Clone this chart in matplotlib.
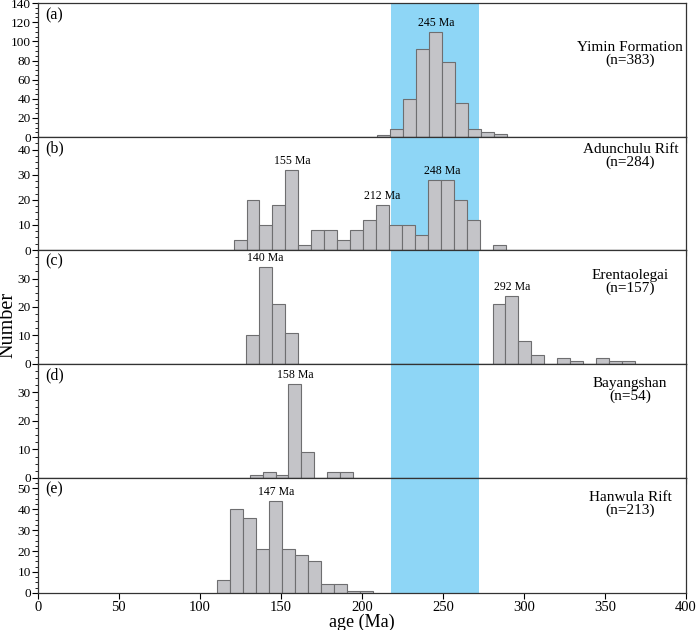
import numpy as np
import matplotlib
matplotlib.use("Agg")
from matplotlib import pyplot as plt
from matplotlib.ticker import AutoMinorLocator, FixedLocator

plt.rcParams['font.family'] = ['Liberation Serif', 'DejaVu Serif']

# histogram data, 8 Ma bins, first bin edge per panel
bin_width = 8
a_start = 209.6
a_counts = [2, 8, 40, 92, 110, 79, 36, 8, 5, 3]
b_start = 120.8
b_counts = [4, 20, 10, 18, 32, 2, 8, 8, 4, 8, 12, 18, 10, 10, 6, 28, 28, 20, 12, 0, 2]
c_start = 128.6
c_counts = [10, 34, 21, 11] + [0] * 15 + [21, 24, 8, 3, 0, 2, 1, 0, 2, 1, 1]
d_start = 130.7
d_counts = [1, 2, 1, 33, 9, 0, 2, 2]
e_start = 110.7
e_counts = [6, 40, 36, 21, 44, 21, 18, 15, 4, 4, 1, 1]

names = ["Yimin Formation", "Adunchulu Rift", "Erentaolegai", "Bayangshan", "Hanwula Rift"]
n_values = [383, 284, 157, 54, 213]
panel_tags = ["(a)", "(b)", "(c)", "(d)", "(e)"]
y_max = [140, 45, 40, 40, 55]
y_ticks = [[0, 20, 40, 60, 80, 100, 120, 140], [0, 10, 20, 30, 40], [0, 10, 20, 30],
           [0, 10, 20, 30], [0, 10, 20, 30, 40, 50]]

# peak labels: panel index, age text, x position, height of bar below
peak_panel = [0, 1, 1, 1, 2, 2, 3, 4]
peak_text = ["245 Ma", "155 Ma", "212 Ma", "248 Ma", "140 Ma", "292 Ma", "158 Ma", "147 Ma"]
peak_x = [245.6, 156.8, 212.8, 249.5, 140.6, 292.6, 158.7, 147.0]
peak_y = [110, 32, 18, 28, 34, 24, 33, 44]

band = (218, 272.5)

starts = [a_start, b_start, c_start, d_start, e_start]
counts = [a_counts, b_counts, c_counts, d_counts, e_counts]
name_y = [0.62, 0.83, 0.72, 0.77, 0.77]

fig, axes = plt.subplots(5, 1, figsize=(7, 6.3), dpi=100, sharex=True,
                         gridspec_kw={'height_ratios': [134, 113, 114, 114, 115], 'hspace': 0})
fig.subplots_adjust(left=0.054, right=0.98, bottom=0.059, top=0.995)

for i, ax in enumerate(axes):
    vals = np.asarray(counts[i])
    lefts = starts[i] + bin_width * np.arange(len(vals))
    ax.axvspan(band[0], band[1], color='#8ED6F6', zorder=0, lw=0)
    ax.bar(lefts, vals, width=bin_width, align='edge', color='#C4C4C8',
           edgecolor='#6E6E70', linewidth=0.8, zorder=2)
    ax.set_xlim(0, 400)
    ax.set_ylim(0, y_max[i])
    ax.yaxis.set_major_locator(FixedLocator(y_ticks[i]))
    ax.yaxis.set_minor_locator(AutoMinorLocator(4))
    ax.tick_params(axis='y', which='major', direction='out', length=4, labelsize=9.5, pad=1)
    ax.tick_params(axis='y', which='minor', direction='out', length=2)
    ax.tick_params(axis='x', which='major', direction='out', length=4, labelsize=10.5, pad=2)
    for s in ax.spines.values():
        s.set_linewidth(0.9)
        s.set_color('#333333')
    ax.text(0.012, 0.97, panel_tags[i], transform=ax.transAxes, ha='left', va='top', fontsize=11.5)
    ax.text(0.914, name_y[i], names[i] + "\n(n=%d)" % n_values[i], transform=ax.transAxes,
            ha='center', va='center', fontsize=11, linespacing=0.95)

for p, t, x, y in zip(peak_panel, peak_text, peak_x, peak_y):
    axes[p].annotate(t, (x, y), xytext=(0, 2), textcoords='offset points',
                     ha='center', va='bottom', fontsize=8.5, zorder=3)

axes[-1].set_xticks(np.arange(0, 401, 50))
axes[-1].set_xlabel("age (Ma)", fontsize=13, labelpad=0)
fig.text(0.012, 0.484, "Number", rotation=90, ha='center', va='center', fontsize=14.5)

fig.savefig("out.png", dpi=100)
